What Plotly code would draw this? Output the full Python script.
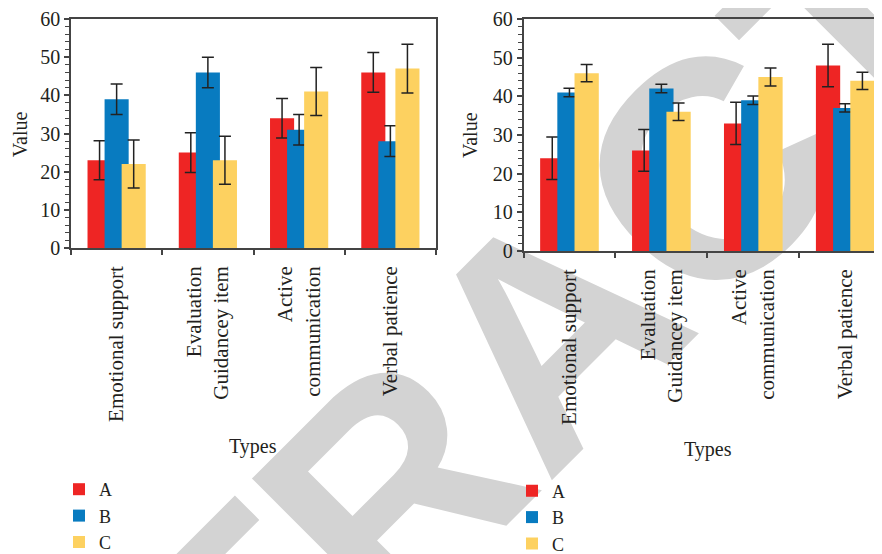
import plotly.graph_objects as go

# ---------------- data ----------------
categories = ["Emotional support", "Evaluation<br>Guidancey item",
              "Active<br>communication", "Verbal patience"]
series_names = ["A", "B", "C"]

left_A = [23, 25, 34, 46]
left_B = [39, 46, 31, 28]
left_C = [22, 23, 41, 47]
left_A_err = [5.1, 5.2, 5.2, 5.2]
left_B_err = [4.0, 4.0, 4.0, 4.0]
left_C_err = [6.3, 6.3, 6.3, 6.4]

right_A = [24, 26, 33, 48]
right_B = [41, 42, 39, 37]
right_C = [46, 36, 45, 44]
right_A_err = [5.5, 5.4, 5.45, 5.5]
right_B_err = [1.1, 1.1, 1.1, 1.05]
right_C_err = [2.25, 2.25, 2.3, 2.25]

y_tick_vals = [0, 10, 20, 30, 40, 50, 60]
axis_title_y = "Value"
axis_title_x = "Types"
watermark = "RETRACTED"

# ---------------- styling ----------------
PAGE_W, PAGE_H = 882, 554
BODY = 8                      # default page margin around the plot div
W, H = PAGE_W - BODY, PAGE_H - BODY
colors = ["#EE2524", "#087BC0", "#FDD160"]
bar_width = 0.264
bar_offsets = [-0.319, -0.132, 0.055]
text_color = "#231F20"
line_color = "#444444"
serif = "Liberation Serif, Times New Roman, serif"


def px(x):
    return (x - BODY) / W


def py(y):
    return 1 - (y - BODY) / H


fig = go.Figure()

left_vals = [left_A, left_B, left_C]
left_errs = [left_A_err, left_B_err, left_C_err]
right_vals = [right_A, right_B, right_C]
right_errs = [right_A_err, right_B_err, right_C_err]

for i, name in enumerate(series_names):
    fig.add_trace(go.Bar(
        x=categories, y=left_vals[i], name=name,
        marker=dict(color=colors[i], line=dict(width=0)),
        width=bar_width, offset=bar_offsets[i],
        error_y=dict(type="data", array=left_errs[i], visible=True,
                     color="#222222", thickness=1.5, width=6),
        xaxis="x", yaxis="y", legend="legend",
    ))
for i, name in enumerate(series_names):
    fig.add_trace(go.Bar(
        x=categories, y=right_vals[i], name=name,
        marker=dict(color=colors[i], line=dict(width=0)),
        width=bar_width, offset=bar_offsets[i],
        error_y=dict(type="data", array=right_errs[i], visible=True,
                     color="#222222", thickness=1.5, width=6),
        xaxis="x2", yaxis="y2", legend="legend2",
    ))

xaxis_common = dict(
    type="category", tickson="boundaries", ticks="outside", ticklen=5,
    tickwidth=1.5, tickcolor=line_color, tickangle=-90,
    showline=True, linecolor=line_color, linewidth=1.5,
    showgrid=False, zeroline=False, automargin=False,
    tickfont=dict(family=serif, size=21, color=text_color),
    ticklabelstandoff=8, ticklabeloverflow="allow",
)
yaxis_common = dict(
    range=[0, 60], tickvals=y_tick_vals, ticks="outside", ticklen=5,
    tickwidth=1.5, tickcolor=line_color, automargin=False,
    minor=dict(dtick=2, ticks="outside", ticklen=4, tickwidth=1.2,
               tickcolor=line_color, showgrid=False),
    showline=True, linecolor=line_color, linewidth=1.5,
    showgrid=False, zeroline=False, ticklabeloverflow="allow",
    tickfont=dict(family=serif, size=20, color=text_color),
)


def title_ann(text, x, y, angle=0):
    return dict(text=text, x=px(x), y=py(y), xref="paper", yref="paper",
                xanchor="center", yanchor="middle", textangle=angle,
                showarrow=False,
                font=dict(family=serif, size=20, color=text_color))


fig.update_layout(
    width=W, height=H,
    margin=dict(l=0, r=0, t=0, b=0, autoexpand=False),
    paper_bgcolor="white",
    plot_bgcolor="rgba(0,0,0,0)",
    barmode="overlay",
    xaxis=dict(xaxis_common, domain=[px(71), px(436)], range=[-0.5, 3.5],
               mirror=True, anchor="y"),
    yaxis=dict(yaxis_common, domain=[py(248), py(19)], mirror=True,
               anchor="x"),
    xaxis2=dict(xaxis_common, domain=[px(523.5), 1.0], range=[-0.5, 3.4],
                mirror=True, anchor="y2"),
    yaxis2=dict(yaxis_common, domain=[py(251), py(19)], mirror=False,
                anchor="x2"),
    legend=dict(x=px(59), y=py(471), xanchor="left", yanchor="top",
                font=dict(family=serif, size=18, color=text_color),
                bgcolor="rgba(0,0,0,0)", tracegroupgap=0),
    legend2=dict(x=px(512), y=py(472.5), xanchor="left", yanchor="top",
                 font=dict(family=serif, size=18, color=text_color),
                 bgcolor="rgba(0,0,0,0)", tracegroupgap=0),
    annotations=[
        title_ann(axis_title_y, 19.5, 134.7, -90),
        title_ann(axis_title_y, 470, 135, -90),
        title_ann(axis_title_x, 253, 446.7),
        title_ann(axis_title_x, 708.3, 449),
    ],
    shapes=[
        dict(type="rect", xref="paper", yref="paper",
             x0=px(527), x1=px(531), y0=py(312), y1=py(308),
             line=dict(width=0), fillcolor="rgba(0,0,0,0)", layer="below",
             label=dict(text=watermark, textangle=-45,
                        textposition="middle center",
                        font=dict(family="Liberation Sans, Arial, sans-serif",
                                  size=310, color="#D3D3D3", weight="bold"))),
    ],
)

fig.write_html("out.html")
